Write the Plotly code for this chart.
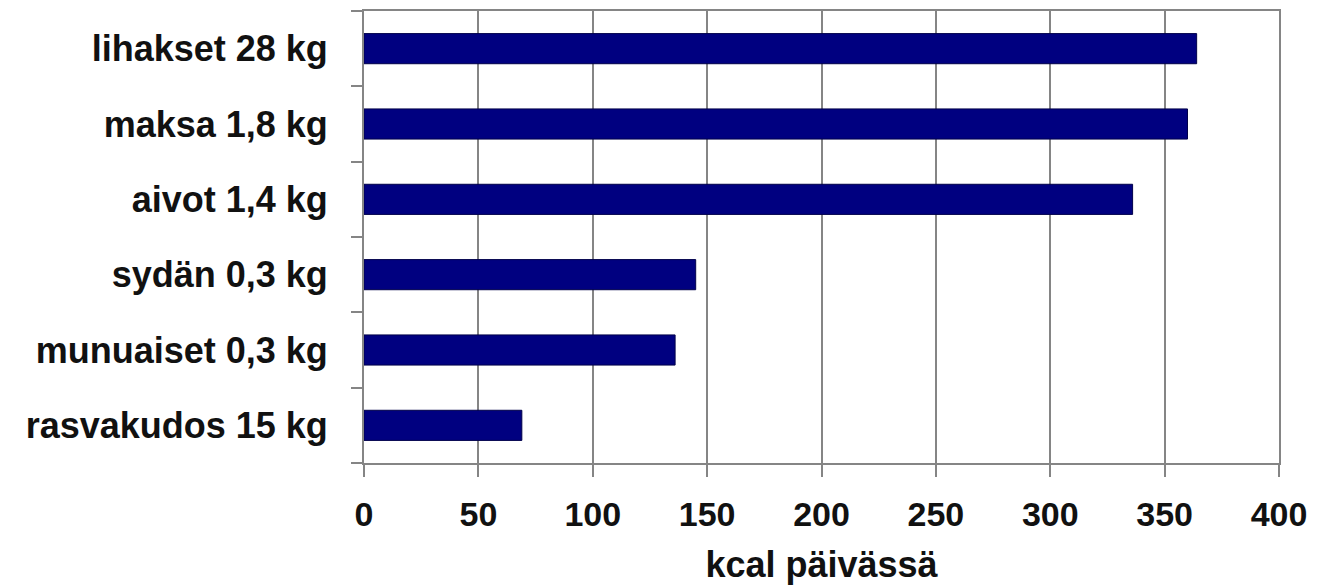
import plotly.graph_objects as go

# Energiankulutus elimittäin (kcal päivässä), alhaalta ylös
elimet = ["rasvakudos 15 kg", "munuaiset 0,3 kg", "sydän 0,3 kg",
          "aivot 1,4 kg", "maksa 1,8 kg", "lihakset 28 kg"]
kcal = [69, 136, 145, 336, 360, 364]
x_ticks = [0, 50, 100, 150, 200, 250, 300, 350, 400]

pos = list(range(len(elimet)))
family = "Liberation Sans, Arial, sans-serif"
ink = "#111111"
grey = "#858585"

fig = go.Figure(
    go.Bar(
        x=kcal,
        y=pos,
        orientation="h",
        width=0.4,
        marker=dict(color="#000080", line=dict(color="#00004a", width=1)),
        hoverinfo="x+text",
        hovertext=elimet,
    )
)

fig.update_layout(
    width=1322,
    height=587,
    margin=dict(l=364, r=43, t=9, b=124),
    paper_bgcolor="white",
    plot_bgcolor="white",
    showlegend=False,
    font=dict(family=family, size=33, color=ink),
    xaxis=dict(
        range=[0, 400],
        tickvals=x_ticks,
        ticktext=[str(v) for v in x_ticks],
        tickfont=dict(family=family, size=34, color=ink, weight="bold"),
        showgrid=True,
        gridcolor=grey,
        gridwidth=2,
        zeroline=False,
        showline=True,
        linecolor=grey,
        linewidth=2,
        mirror=True,
        ticks="outside",
        ticklen=12,
        tickwidth=2,
        tickcolor=grey,
        ticklabelstandoff=8,
        title=dict(text="<b>kcal päivässä</b>",
                   font=dict(family=family, size=36, color=ink),
                   standoff=20),
        fixedrange=True,
    ),
    yaxis=dict(
        range=[-0.5, len(elimet) - 0.5],
        tickvals=pos,
        ticktext=elimet,
        tickfont=dict(family=family, size=36, color=ink, weight="bold"),
        ticks="",
        ticklabelstandoff=27,
        showgrid=False,
        zeroline=False,
        showline=True,
        linecolor=grey,
        linewidth=2,
        mirror=True,
        minor=dict(
            tickmode="linear",
            tick0=0.5,
            dtick=1,
            ticks="outside",
            ticklen=11,
            tickwidth=2,
            tickcolor=grey,
            showgrid=False,
        ),
        fixedrange=True,
    ),
    bargap=0.6,
)

fig.write_html("out.html")
